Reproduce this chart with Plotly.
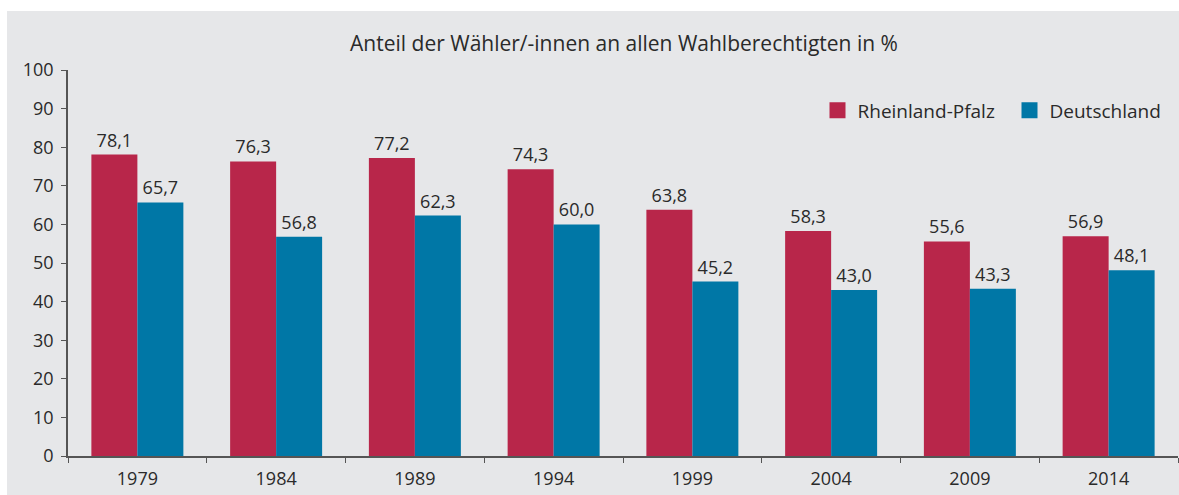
import plotly.graph_objects as go

years = ["1979", "1984", "1989", "1994", "1999", "2004", "2009", "2014"]
rlp = [78.1, 76.3, 77.2, 74.3, 63.8, 58.3, 55.6, 56.9]
de = [65.7, 56.8, 62.3, 60.0, 45.2, 43.0, 43.3, 48.1]
y_ticks = [0, 10, 20, 30, 40, 50, 60, 70, 80, 90, 100]

RED = "#b8264a"
BLUE = "#0077a6"
BG = "#e6e7e9"
TXT = "#2a2a2a"
AX = "#555555"
FONT = "Open Sans"


def fmt(v):
    return f"{v:.1f}".replace(".", ",")


W, H = 1179, 495
plot_l, plot_r, plot_t, plot_b = 68, 1178, 70, 456
ml, mt = plot_l, plot_t
pw = plot_r - plot_l
ph = plot_b - plot_t
mr = W - ml - pw
mb = H - mt - ph


def px_x(p):
    return (p - plot_l) / pw


def px_y(p):
    return (plot_b - p) / ph


fig = go.Figure()
fig.add_trace(go.Bar(
    x=years, y=rlp, name="Rheinland-Pfalz", marker=dict(color=RED, line=dict(width=0)),
    text=[fmt(v) for v in rlp], textposition="outside", cliponaxis=False,
    textfont=dict(size=18, color=TXT, family=FONT), showlegend=False,
))
fig.add_trace(go.Bar(
    x=years, y=de, name="Deutschland", marker=dict(color=BLUE, line=dict(width=0)),
    text=[fmt(v) for v in de], textposition="outside", cliponaxis=False,
    textfont=dict(size=18, color=TXT, family=FONT), showlegend=False,
))
# legend entries with larger square symbols, one legend box each
for name, col, lg in (("Rheinland-Pfalz", RED, "legend"), ("Deutschland", BLUE, "legend2")):
    fig.add_trace(go.Scatter(
        x=[years[0]], y=[None], mode="markers", name=name, legend=lg,
        marker=dict(symbol="square", size=17, color=col), showlegend=True,
    ))

# white frame strips at top and left (the panel itself is grey)
fig.add_shape(type="rect", xref="paper", yref="paper",
              x0=px_x(-5), x1=px_x(1200), y0=px_y(11), y1=px_y(-5),
              fillcolor="white", line=dict(width=0), layer="below")
fig.add_shape(type="rect", xref="paper", yref="paper",
              x0=px_x(-5), x1=px_x(7), y0=px_y(500), y1=px_y(-5),
              fillcolor="white", line=dict(width=0), layer="below")

leg_common = dict(orientation="h", xanchor="left", y=px_y(110.5), yanchor="middle",
                  bgcolor="rgba(0,0,0,0)", font=dict(size=19, color=TXT, family=FONT),
                  itemsizing="trace")

fig.update_layout(
    width=W, height=H,
    margin=dict(l=ml, r=mr, t=mt, b=mb, autoexpand=False),
    paper_bgcolor=BG,
    plot_bgcolor="rgba(0,0,0,0)",
    barmode="group", bargap=0.337, bargroupgap=0,
    font=dict(family=FONT, color=TXT, size=18),
    title=dict(text="Anteil der Wähler/-innen an allen Wahlberechtigten in %",
               xref="paper", x=px_x(624), xanchor="center",
               yref="container", y=1 - 44 / H, yanchor="middle",
               font=dict(size=21, color=TXT, family=FONT)),
    legend=dict(x=px_x(817.5), **leg_common),
    legend2=dict(x=px_x(1009.5), **leg_common),
    showlegend=True,
)
fig.update_xaxes(
    showline=True, linecolor=AX, linewidth=1.5,
    ticks="outside", tickson="boundaries", ticklen=5, tickcolor=AX,
    showgrid=False, tickfont=dict(size=18, color=TXT, family=FONT),
    ticklabelstandoff=6,
)
fig.update_yaxes(
    range=[0, 100], tickvals=y_ticks, showline=True, linecolor=AX, linewidth=1.5,
    ticks="outside", ticklen=5, tickcolor=AX, showgrid=False, zeroline=False,
    tickfont=dict(size=18, color=TXT, family=FONT), ticklabelstandoff=4,
)

fig.write_html(
    "out.html",
    config={"displayModeBar": False},
    post_script=(
        "document.body.style.margin='0';"
        "document.body.style.overflow='hidden';"
        "document.documentElement.style.overflow='hidden';"
    ),
)
